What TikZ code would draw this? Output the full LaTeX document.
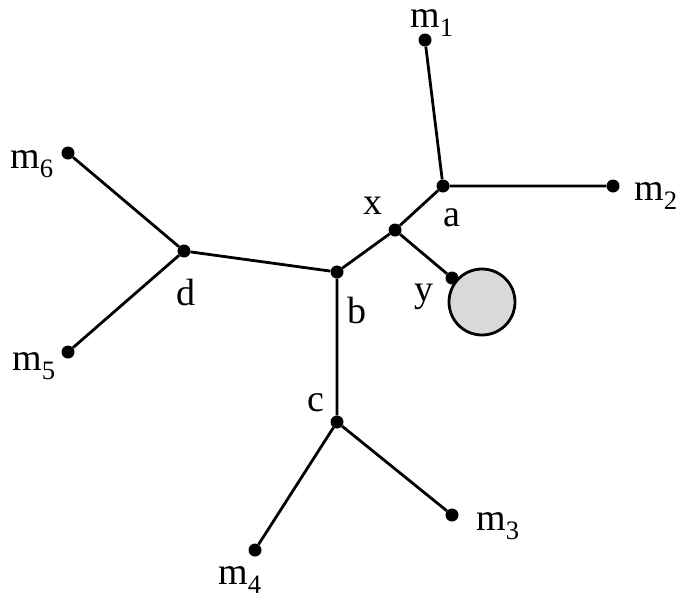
\documentclass[tikz,border=0pt]{standalone}
\usepackage{fontspec}
\setmainfont{Liberation Serif}
\begin{document}
\begin{tikzpicture}[x=1pt,y=-1pt,
  dot/.style={circle,fill=black,inner sep=0pt,minimum size=13pt},
  lab/.style={font=\fontsize{38}{42}\selectfont,inner sep=0pt},
  edge/.style={line width=2.8pt}]
\useasboundingbox (0,0) rectangle (685,606);
\node[dot] (m1) at (425,40) {};
\node[dot] (a) at (443,186) {};
\node[dot] (m2) at (613,186) {};
\node[dot] (x) at (395,230) {};
\node[dot] (y) at (452,278) {};
\node[dot] (b) at (337,272) {};
\node[dot] (d) at (184,251) {};
\node[dot] (m6) at (68,153) {};
\node[dot] (m5) at (68,352) {};
\node[dot] (c) at (337,422) {};
\node[dot] (m3) at (452,515) {};
\node[dot] (m4) at (255,550) {};
\node[circle,draw=black,line width=2.8pt,fill=black!15,minimum size=66pt,inner sep=0pt] (ball) at (482,302) {};
\draw[edge] (m1)--(a) (a)--(m2) (a)--(x) (x)--(y) (x)--(b) (b)--(d) (d)--(m6) (d)--(m5) (b)--(c) (c)--(m3) (c)--(m4);
\node[lab] (lm1) at (432,23) {m\textsubscript{1}};
\node[lab] (lm2) at (656,196) {m\textsubscript{2}};
\node[lab] (la) at (452,218) {a};
\node[lab] (lx) at (373,206) {x};
\node[lab] (ly) at (424,297) {y};
\node[lab] (lb) at (357,310) {b};
\node[lab] (ld) at (186,292) {d};
\node[lab] (lm6) at (32,164) {m\textsubscript{6}};
\node[lab] (lm5) at (34,366) {m\textsubscript{5}};
\node[lab] (lc) at (316,403) {c};
\node[lab] (lm3) at (498,526) {m\textsubscript{3}};
\node[lab] (lm4) at (240,580) {m\textsubscript{4}};
\end{tikzpicture}
\end{document}
